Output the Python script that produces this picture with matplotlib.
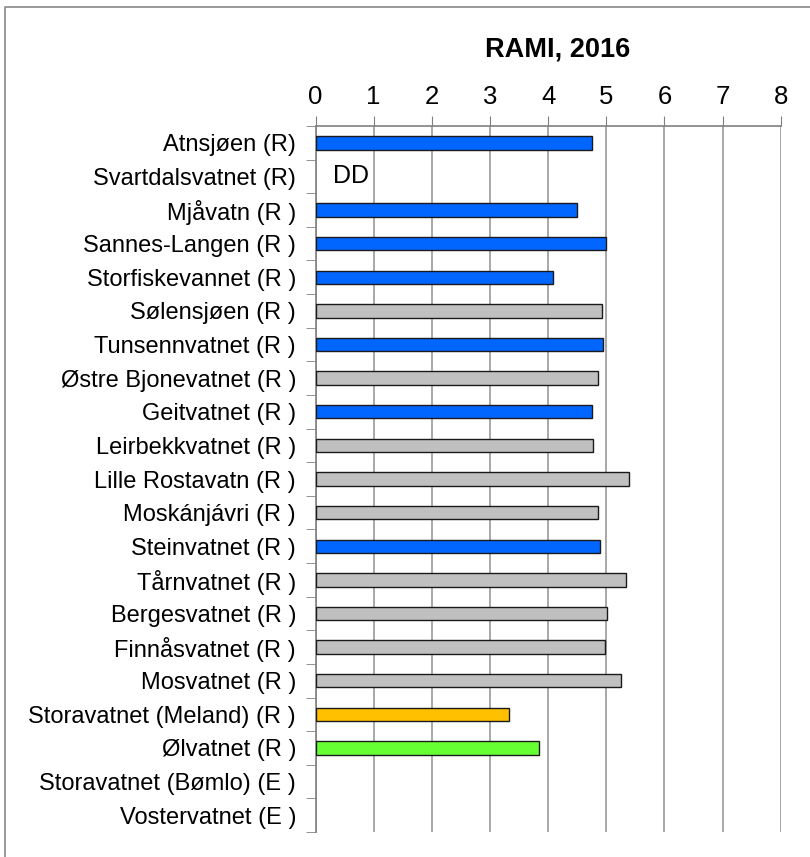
"""
RAMI 2016 horizontal bar chart per lake.
"""

import matplotlib
matplotlib.use("Agg")
import matplotlib.pyplot as plt
from matplotlib.lines import Line2D
import numpy as np

plt.rcParams['font.family'] = ['Liberation Sans', 'DejaVu Sans']

# Data
LAKES = [
    "Atnsjøen (R)", "Svartdalsvatnet (R)", "Mjåvatn (R )", "Sannes-Langen (R )",
    "Storfiskevannet (R )", "Sølensjøen (R )", "Tunsennvatnet (R )",
    "Østre Bjonevatnet (R )", "Geitvatnet (R )", "Leirbekkvatnet (R )",
    "Lille Rostavatn (R )", "Moskánjávri (R )", "Steinvatnet (R )",
    "Tårnvatnet (R )", "Bergesvatnet (R )", "Finnåsvatnet (R )",
    "Mosvatnet (R )", "Storavatnet (Meland) (R )", "Ølvatnet (R )",
    "Storavatnet (Bømlo) (E )", "Vostervatnet (E )",
]
RAMI = [4.75, np.nan, 4.50, 4.99, 4.08, 4.92, 4.94, 4.85, 4.75, 4.77,
        5.39, 4.85, 4.90, 5.34, 5.01, 4.98, 5.25, 3.33, 3.84, np.nan, np.nan]
GROUP = ["blue", None, "blue", "blue", "blue", "gray", "blue", "gray", "blue",
         "gray", "gray", "gray", "blue", "gray", "gray", "gray", "gray",
         "orange", "green", None, None]
XTICKS = [0, 1, 2, 3, 4, 5, 6, 7, 8]

COLORS = {"blue": "#0066FF", "gray": "#C0C0C0", "orange": "#FFC000",
          "green": "#66FF33"}

fig = plt.figure(figsize=(8.10, 8.57), dpi=100)
ax = fig.add_axes([315.5 / 810, 1 - 832 / 857, 465.2 / 810, 706 / 857])

y = np.arange(len(LAKES))
vals = np.array(RAMI)
has = ~np.isnan(vals)
ax.barh(y[has], vals[has], height=0.4,
        color=[COLORS[g] for g, h in zip(GROUP, has) if h],
        edgecolor="#1a1a1a", linewidth=1.0, zorder=3)
ax.text(0.3, 1, "DD", fontsize=18, va="center", ha="left", zorder=4)

ax.set_xlim(0, 8)
ax.set_ylim(len(LAKES) - 0.5, -0.5)
ax.set_xticks(XTICKS)
ax.xaxis.tick_top()
ax.tick_params(axis="x", which="major", direction="out", length=7,
               color="#808080", labelsize=18.5, pad=5)
ax.set_yticks(y)
ax.set_yticklabels(LAKES, fontsize=17)
ax.set_yticks(np.arange(len(LAKES) + 1) - 0.5, minor=True)
ax.tick_params(axis="y", which="major", length=0, pad=14)
ax.tick_params(axis="y", which="minor", length=7, color="#808080",
               direction="out")
ax.grid(axis="x", color="#999999", linewidth=1.2, zorder=0)

for side in ["right", "bottom"]:
    ax.spines[side].set_visible(False)
for side in ["top", "left"]:
    ax.spines[side].set_color("#808080")
    ax.spines[side].set_linewidth(1.2)

ax.set_title("RAMI, 2016", fontsize=19.5, fontweight="bold", x=0.521, pad=50)

# border of the chart area (only top and left edges are inside the image)
fig.add_artist(Line2D([5 / 810, 5 / 810, 1.0], [0.0, 1 - 7 / 857, 1 - 7 / 857],
                      transform=fig.transFigure, color="#888888",
                      linewidth=1.2))

fig.savefig("out.png", dpi=100)
